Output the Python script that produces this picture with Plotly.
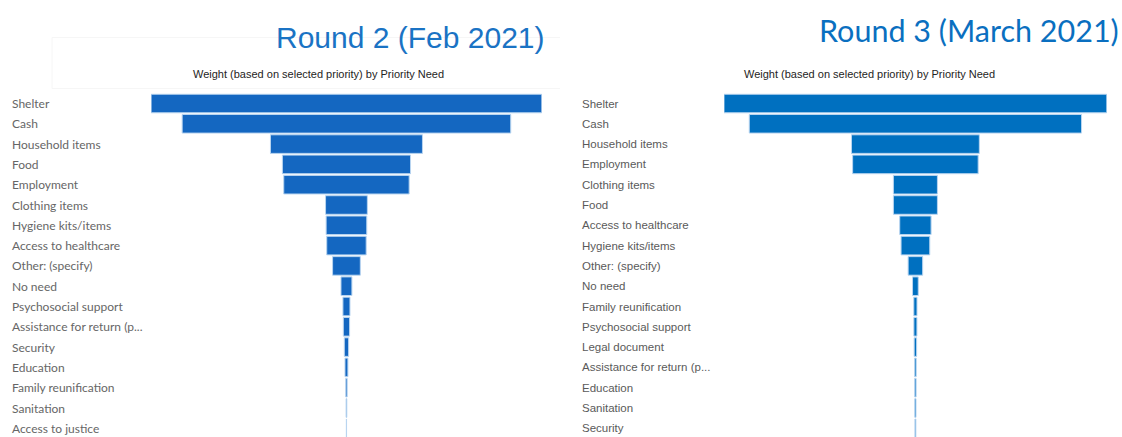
import plotly.graph_objects as go

# ---------------- data ----------------
r2_needs = ["Shelter", "Cash", "Household items", "Food", "Employment", "Clothing items",
            "Hygiene kits/items", "Access to healthcare", "Other: (specify)", "No need",
            "Psychosocial support", "Assistance for return (p...", "Security", "Education",
            "Family reunification", "Sanitation", "Access to justice"]
r2_weight = [1000, 841, 389, 328, 321, 107, 104, 101, 71, 28, 18, 16, 11, 7.5, 3.6, 1.8, 0.5]

r3_needs = ["Shelter", "Cash", "Household items", "Employment", "Clothing items", "Food",
            "Access to healthcare", "Hygiene kits/items", "Other: (specify)", "No need",
            "Family reunification", "Psychosocial support", "Legal document",
            "Assistance for return (p...", "Education", "Sanitation", "Security"]
r3_weight = [1000, 868, 334, 328, 115, 115, 82, 75, 38, 15, 8.4, 8, 6.5, 4, 3.6, 3.2, 2.4]

titles = ["Round 2 (Feb 2021)", "Round 3 (March 2021)"]
subtitle = "Weight (based on selected priority) by Priority Need"

W, H = 1122, 437
fig = go.Figure()

fig.add_trace(go.Funnel(
    y=r2_needs, x=r2_weight, xaxis="x", yaxis="y",
    textinfo="none", connector=dict(visible=False),
    marker=dict(color="#1467c1", line=dict(color="#b9d5f0", width=1)),
    showlegend=False, hoverinfo="x+y"))
fig.add_trace(go.Funnel(
    y=r3_needs, x=r3_weight, xaxis="x2", yaxis="y2",
    textinfo="none", connector=dict(visible=False),
    marker=dict(color="#0070c0", line=dict(color="#b9d5f0", width=1)),
    showlegend=False, hoverinfo="x+y"))

pitch = 20.3
top_px = 103.5 - pitch / 2
ymax = (H - top_px) / pitch - 0.5
ydom = [0, 1 - top_px / H]

ax_common = dict(showgrid=False, zeroline=False, showticklabels=False, showline=False, fixedrange=True)
fig.update_layout(
    width=W, height=H,
    margin=dict(l=0, r=0, t=0, b=0),
    paper_bgcolor="white", plot_bgcolor="white",
    funnelgap=0.085,
    xaxis=dict(domain=[151.1 / W, 541.8 / W], range=[-r2_weight[0] / 2, r2_weight[0] / 2], anchor="y", **ax_common),
    yaxis=dict(domain=ydom, range=[ymax, -0.5], anchor="x", type="category", **ax_common),
    xaxis2=dict(domain=[724.0 / W, 1106.8 / W], range=[-r3_weight[0] / 2, r3_weight[0] / 2], anchor="y2", **ax_common),
    yaxis2=dict(domain=ydom, range=[ymax, -0.5], anchor="x2", type="category", **ax_common),
)

ann = []
for name in r2_needs:
    ann.append(dict(x=10 / W, xref="paper", y=name, yref="y", text=name, showarrow=False,
                    xanchor="left", yanchor="middle",
                    font=dict(family="Lato, Noto Sans, sans-serif", size=12, color="#666666")))
for name in r3_needs:
    ann.append(dict(x=580 / W, xref="paper", y=name, yref="y2", text=name, showarrow=False,
                    xanchor="left", yanchor="middle",
                    font=dict(family="Liberation Sans, Arial, sans-serif", size=11.5, color="#5a5a5a")))

# titles
ann.append(dict(x=410 / W, y=1 - 37 / H, xref="paper", yref="paper", text=titles[0], showarrow=False,
                xanchor="center", yanchor="middle",
                font=dict(family="Liberation Sans, Arial, sans-serif", size=30, color="#1a73c4")))
ann.append(dict(x=969 / W, y=1 - 30 / H, xref="paper", yref="paper", text=titles[1], showarrow=False,
                xanchor="center", yanchor="middle",
                font=dict(family="Lato, Open Sans, sans-serif", size=30.5, color="#0a6fc0")))
# subtitles
ann.append(dict(x=318 / W, y=1 - 74 / H, xref="paper", yref="paper", text=subtitle, showarrow=False,
                xanchor="center", yanchor="middle",
                font=dict(family="Liberation Sans Narrow, Arial Narrow, Liberation Sans, sans-serif", size=11, color="#252423")))
ann.append(dict(x=869 / W, y=1 - 74 / H, xref="paper", yref="paper", text=subtitle, showarrow=False,
                xanchor="center", yanchor="middle",
                font=dict(family="Liberation Sans Narrow, Arial Narrow, Liberation Sans, sans-serif", size=11, color="#252423")))
fig.update_layout(annotations=ann)

# faint frame lines of the source screenshot
faint = dict(color="#f6f6f6", width=1)
shapes = [
    dict(type="line", xref="paper", yref="paper", x0=52 / W, x1=560 / W, y0=1 - 37.5 / H, y1=1 - 37.5 / H, line=faint),
    dict(type="line", xref="paper", yref="paper", x0=52 / W, x1=560 / W, y0=1 - 88.5 / H, y1=1 - 88.5 / H, line=faint),
    dict(type="line", xref="paper", yref="paper", x0=52 / W, x1=52 / W, y0=1 - 37.5 / H, y1=1 - 88.5 / H, line=faint),
]
fig.update_layout(shapes=shapes)

fig.write_html("out.html", config=dict(displayModeBar=False))
